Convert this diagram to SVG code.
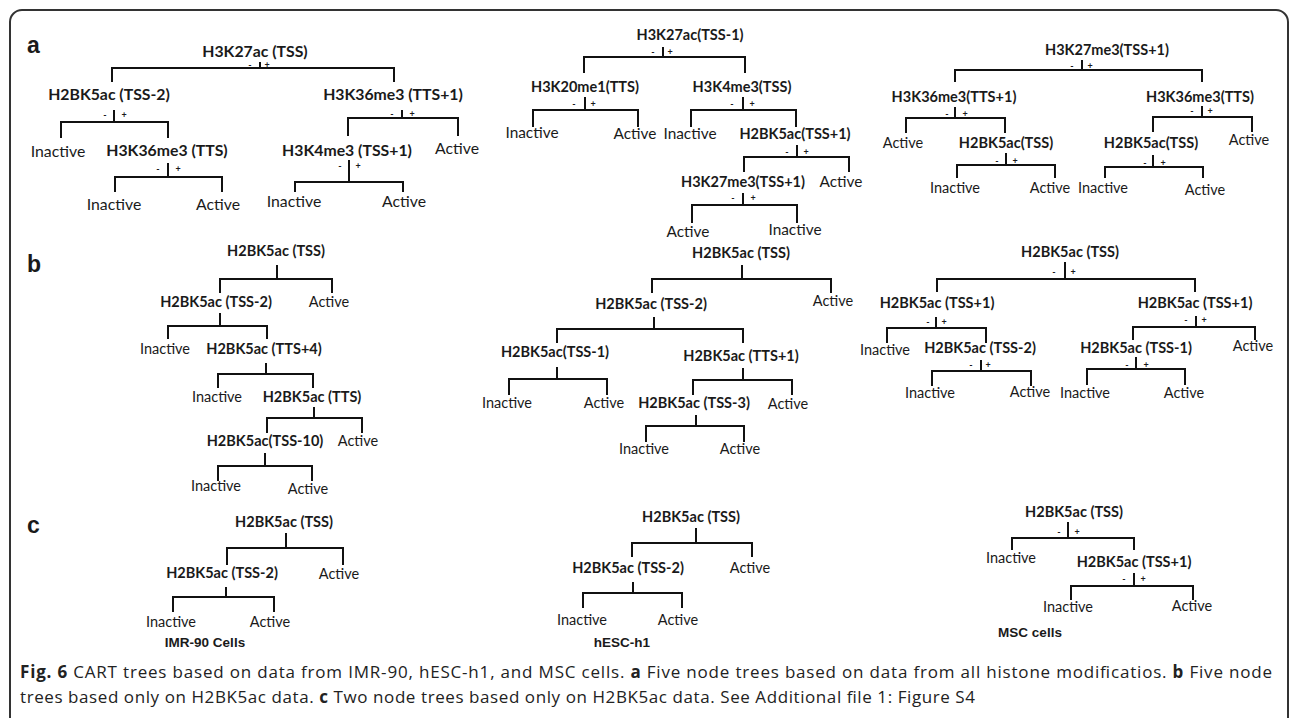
<svg xmlns="http://www.w3.org/2000/svg" width="1292" height="718" viewBox="0 0 1292 718">
<style>
text{font-family:Lato,"Liberation Sans",sans-serif;fill:#1a1a1a}
.b{font-weight:700;font-size:14.5px;text-anchor:middle}
.r{font-weight:400;font-size:14.5px;text-anchor:middle}
.s{font-weight:700;font-size:9px;text-anchor:middle}
.p{font-family:"Liberation Sans",Arial,sans-serif;font-weight:700;font-size:23px}
.cell{font-family:"Liberation Sans",Arial,sans-serif;font-weight:700;font-size:13.5px;text-anchor:middle}
.cap{font-family:"Open Sans","Noto Sans",sans-serif;font-size:17px;fill:#222}
.cap .bb{font-weight:700}
.big .b,.big .r{font-size:15.8px}
.amid .r{font-size:15.4px}
#connectors path{fill:none;stroke:#111;stroke-width:2}
</style>
<rect x="10" y="10" width="1278" height="740" rx="12" fill="none" stroke="#333" stroke-width="2"/>
<text class="p" x="27" y="53">a</text>
<text class="p" x="27" y="272">b</text>
<text class="p" x="27" y="533">c</text>
<g id="connectors">
<!-- a-left -->
<path d="M260 62V68M112 82V68H394V82"/>
<path d="M114 110V122M61 138V122H168V138"/>
<path d="M168 163V177M115 192V177H222V192"/>
<path d="M402 110V118M348 136V118H458V136"/>
<path d="M349 160V182M295 192V182H403V192"/>
<!-- a-mid -->
<path d="M663 47V57M584 73V57H745V73"/>
<path d="M585 97V110M533 127V110H638V127"/>
<path d="M743 97V110M691 127V110H796V127"/>
<path d="M797 145V157M744 172V157H849V172"/>
<path d="M743 193V205M692 223V205H797V223"/>
<!-- a-right -->
<path d="M1082 60V70M955 82V70H1202V82"/>
<path d="M955 107V118M906 133V118H1005V133"/>
<path d="M1006 153V165M957 178V165H1055V178"/>
<path d="M1202 106V117M1153 132V117H1252V132"/>
<path d="M1153 155V167M1105 178V167H1203V178"/>
<!-- b-left -->
<path d="M277 265V279M220 293V279H332V293"/>
<path d="M220 313V326M168 339V326H267V339"/>
<path d="M266 363V374M218 388V374H313V388"/>
<path d="M314 407V418M267 433V418H362V433"/>
<path d="M265 453V466M218 481V466H312V481"/>
<!-- b-mid -->
<path d="M742 265V279M652 293V279H831V293"/>
<path d="M654 317V329M557 343V329H743V343"/>
<path d="M557 367V379M509 395V379H607V395"/>
<path d="M743 368V380M693 395V380H792V395"/>
<path d="M696 415V426M646 442V426H744V442"/>
<!-- b-right -->
<path d="M1065 262V279M937 292V279H1195V292"/>
<path d="M936 317V328M887 343V328H986V343"/>
<path d="M981 360V371M932 386V371H1031V386"/>
<path d="M1196 316V327M1133 340V327H1255V340"/>
<path d="M1136 357V369M1087 385V369H1185V385"/>
<!-- c-left -->
<path d="M286 533V548M227 565V548H343V565"/>
<path d="M226 587V597M173 612V597H274V612"/>
<!-- c-mid -->
<path d="M696 528V543M632 557V543H752V557"/>
<path d="M633 582V593M583 608V593H682V608"/>
<!-- c-right -->
<path d="M1068 522V538M1012 550V538H1134V550"/>
<path d="M1134 573V586M1071 600V586H1193V600"/>
</g>
<!-- Tree a-left -->
<g id="a-left" class="big">
<g id="a1-root"><text class="b" x="255" y="57">H3K27ac (TSS)</text><text class="s" x="250" y="68">-</text><text class="s" x="267" y="68">+</text></g>
<g id="a1-n2"><text class="b" x="109" y="100">H2BK5ac (TSS-2)</text><text class="s" x="105" y="118">-</text><text class="s" x="124" y="118">+</text></g>
<g id="a1-l1"><text class="r" x="58" y="157">Inactive</text></g>
<g id="a1-n3"><text class="b" x="167" y="156">H3K36me3 (TTS)</text><text class="s" x="158" y="172">-</text><text class="s" x="178" y="172">+</text></g>
<g id="a1-l2"><text class="r" x="114" y="210">Inactive</text></g>
<g id="a1-l3"><text class="r" x="218" y="210">Active</text></g>
<g id="a1-n4"><text class="b" x="393" y="100">H3K36me3 (TTS+1)</text><text class="s" x="392" y="117">-</text><text class="s" x="412" y="117">+</text></g>
<g id="a1-n5"><text class="b" x="347" y="156">H3K4me3 (TSS+1)</text><text class="s" x="340" y="169">-</text><text class="s" x="358" y="169">+</text></g>
<g id="a1-l4"><text class="r" x="457" y="154">Active</text></g>
<g id="a1-l5"><text class="r" x="294" y="207">Inactive</text></g>
<g id="a1-l6"><text class="r" x="404" y="207">Active</text></g>
</g>
<!-- Tree a-mid -->
<g id="a-mid" class="amid">
<g id="a2-root"><text class="b" x="690" y="40">H3K27ac(TSS-1)</text><text class="s" x="653" y="55">-</text><text class="s" x="670" y="55">+</text></g>
<g id="a2-n2"><text class="b" x="585" y="92">H3K20me1(TTS)</text><text class="s" x="574" y="107">-</text><text class="s" x="593" y="107">+</text></g>
<g id="a2-n3"><text class="b" x="742" y="92">H3K4me3(TSS)</text><text class="s" x="732" y="107">-</text><text class="s" x="752" y="107">+</text></g>
<g id="a2-l1"><text class="r" x="532" y="138">Inactive</text></g>
<g id="a2-l2"><text class="r" x="635" y="139">Active</text></g>
<g id="a2-l3"><text class="r" x="690" y="139">Inactive</text></g>
<g id="a2-n4"><text class="b" x="795" y="139">H2BK5ac(TSS+1)</text><text class="s" x="787" y="155">-</text><text class="s" x="806" y="155">+</text></g>
<g id="a2-n5"><text class="b" x="743" y="187">H3K27me3(TSS+1)</text><text class="s" x="733" y="201">-</text><text class="s" x="753" y="201">+</text></g>
<g id="a2-l4"><text class="r" x="841" y="187">Active</text></g>
<g id="a2-l5"><text class="r" x="688" y="237">Active</text></g>
<g id="a2-l6"><text class="r" x="795" y="235">Inactive</text></g>
</g>
<!-- Tree a-right -->
<g id="a-right">
<g id="a3-root"><text class="b" x="1107" y="55">H3K27me3(TSS+1)</text><text class="s" x="1072" y="69">-</text><text class="s" x="1090" y="69">+</text></g>
<g id="a3-n2"><text class="b" x="954" y="102">H3K36me3(TTS+1)</text><text class="s" x="947" y="117">-</text><text class="s" x="965" y="117">+</text></g>
<g id="a3-n3"><text class="b" x="1200" y="102">H3K36me3(TTS)</text><text class="s" x="1192" y="114">-</text><text class="s" x="1210" y="114">+</text></g>
<g id="a3-l1"><text class="r" x="903" y="148">Active</text></g>
<g id="a3-n4"><text class="b" x="1006" y="148">H2BK5ac(TSS)</text><text class="s" x="997" y="164">-</text><text class="s" x="1015" y="164">+</text></g>
<g id="a3-n5"><text class="b" x="1151" y="148">H2BK5ac(TSS)</text><text class="s" x="1145" y="166">-</text><text class="s" x="1163" y="166">+</text></g>
<g id="a3-l2"><text class="r" x="1249" y="145">Active</text></g>
<g id="a3-l3"><text class="r" x="955" y="193">Inactive</text></g>
<g id="a3-l4"><text class="r" x="1050" y="193">Active</text></g>
<g id="a3-l5"><text class="r" x="1103" y="193">Inactive</text></g>
<g id="a3-l6"><text class="r" x="1205" y="195">Active</text></g>
</g>
<!-- Tree b-left -->
<g id="b-left">
<g id="b1-root"><text class="b" x="276" y="256">H2BK5ac (TSS)</text></g>
<g id="b1-n2"><text class="b" x="216" y="307">H2BK5ac (TSS-2)</text></g>
<g id="b1-l1"><text class="r" x="329" y="307">Active</text></g>
<g id="b1-l2"><text class="r" x="165" y="354">Inactive</text></g>
<g id="b1-n3"><text class="b" x="264" y="354">H2BK5ac (TTS+4)</text></g>
<g id="b1-l3"><text class="r" x="217" y="402">Inactive</text></g>
<g id="b1-n4"><text class="b" x="312" y="402">H2BK5ac (TTS)</text></g>
<g id="b1-n5"><text class="b" x="265" y="446">H2BK5ac(TSS-10)</text></g>
<g id="b1-l4"><text class="r" x="358" y="446">Active</text></g>
<g id="b1-l5"><text class="r" x="216" y="491">Inactive</text></g>
<g id="b1-l6"><text class="r" x="308" y="494">Active</text></g>
</g>
<!-- Tree b-mid -->
<g id="b-mid">
<g id="b2-root"><text class="b" x="741" y="258">H2BK5ac (TSS)</text></g>
<g id="b2-l1"><text class="r" x="833" y="306">Active</text></g>
<g id="b2-n2"><text class="b" x="651" y="309">H2BK5ac (TSS-2)</text></g>
<g id="b2-n3"><text class="b" x="555" y="357">H2BK5ac(TSS-1)</text></g>
<g id="b2-n4"><text class="b" x="741" y="361">H2BK5ac (TTS+1)</text></g>
<g id="b2-l2"><text class="r" x="507" y="408">Inactive</text></g>
<g id="b2-l3"><text class="r" x="604" y="408">Active</text></g>
<g id="b2-n5"><text class="b" x="694" y="408">H2BK5ac (TSS-3)</text></g>
<g id="b2-l4"><text class="r" x="788" y="409">Active</text></g>
<g id="b2-l5"><text class="r" x="644" y="454">Inactive</text></g>
<g id="b2-l6"><text class="r" x="740" y="454">Active</text></g>
</g>
<!-- Tree b-right -->
<g id="b-right">
<g id="b3-root"><text class="b" x="1070" y="257">H2BK5ac (TSS)</text><text class="s" x="1054" y="275">-</text><text class="s" x="1073" y="275">+</text></g>
<g id="b3-n2"><text class="b" x="937" y="308">H2BK5ac (TSS+1)</text><text class="s" x="928" y="325">-</text><text class="s" x="944" y="325">+</text></g>
<g id="b3-n3"><text class="b" x="1195" y="308">H2BK5ac (TSS+1)</text><text class="s" x="1186" y="323">-</text><text class="s" x="1204" y="323">+</text></g>
<g id="b3-l1"><text class="r" x="885" y="355">Inactive</text></g>
<g id="b3-n4"><text class="b" x="980" y="353">H2BK5ac (TSS-2)</text><text class="s" x="971" y="368">-</text><text class="s" x="988" y="368">+</text></g>
<g id="b3-n5"><text class="b" x="1136" y="353">H2BK5ac (TSS-1)</text><text class="s" x="1127" y="368">-</text><text class="s" x="1146" y="368">+</text></g>
<g id="b3-l2"><text class="r" x="1253" y="351">Active</text></g>
<g id="b3-l3"><text class="r" x="930" y="398">Inactive</text></g>
<g id="b3-l4"><text class="r" x="1030" y="397">Active</text></g>
<g id="b3-l5"><text class="r" x="1085" y="398">Inactive</text></g>
<g id="b3-l6"><text class="r" x="1184" y="398">Active</text></g>
</g>
<!-- Tree c-left -->
<g id="c-left">
<g id="c1-root"><text class="b" x="284" y="527">H2BK5ac (TSS)</text></g>
<g id="c1-n2"><text class="b" x="222" y="578">H2BK5ac (TSS-2)</text></g>
<g id="c1-l1"><text class="r" x="339" y="579">Active</text></g>
<g id="c1-l2"><text class="r" x="171" y="627">Inactive</text></g>
<g id="c1-l3"><text class="r" x="270" y="627">Active</text></g>
<text class="cell" x="205" y="647">IMR-90 Cells</text>
</g>
<!-- Tree c-mid -->
<g id="c-mid">
<g id="c2-root"><text class="b" x="691" y="522">H2BK5ac (TSS)</text></g>
<g id="c2-n2"><text class="b" x="628" y="573">H2BK5ac (TSS-2)</text></g>
<g id="c2-l1"><text class="r" x="750" y="573">Active</text></g>
<g id="c2-l2"><text class="r" x="582" y="625">Inactive</text></g>
<g id="c2-l3"><text class="r" x="678" y="625">Active</text></g>
<text class="cell" x="622" y="647">hESC-h1</text>
</g>
<!-- Tree c-right -->
<g id="c-right">
<g id="c3-root"><text class="b" x="1074" y="517">H2BK5ac (TSS)</text><text class="s" x="1059" y="535">-</text><text class="s" x="1077" y="535">+</text></g>
<g id="c3-l1"><text class="r" x="1011" y="563">Inactive</text></g>
<g id="c3-n2"><text class="b" x="1134" y="567">H2BK5ac (TSS+1)</text><text class="s" x="1124" y="582">-</text><text class="s" x="1143" y="582">+</text></g>
<g id="c3-l2"><text class="r" x="1068" y="612">Inactive</text></g>
<g id="c3-l3"><text class="r" x="1192" y="611">Active</text></g>
<text class="cell" x="1030" y="637">MSC cells</text>
</g>
<!-- Caption -->
<text class="cap" x="20" y="678" textLength="1252" lengthAdjust="spacing"><tspan class="bb">Fig. 6</tspan> CART trees based on data from IMR-90, hESC-h1, and MSC cells. <tspan class="bb">a</tspan> Five node trees based on data from all histone modificatios. <tspan class="bb">b</tspan> Five node</text>
<text class="cap" x="20" y="703" textLength="955" lengthAdjust="spacing">trees based only on H2BK5ac data. <tspan class="bb">c</tspan> Two node trees based only on H2BK5ac data. See Additional file 1: Figure S4</text>
</svg>
